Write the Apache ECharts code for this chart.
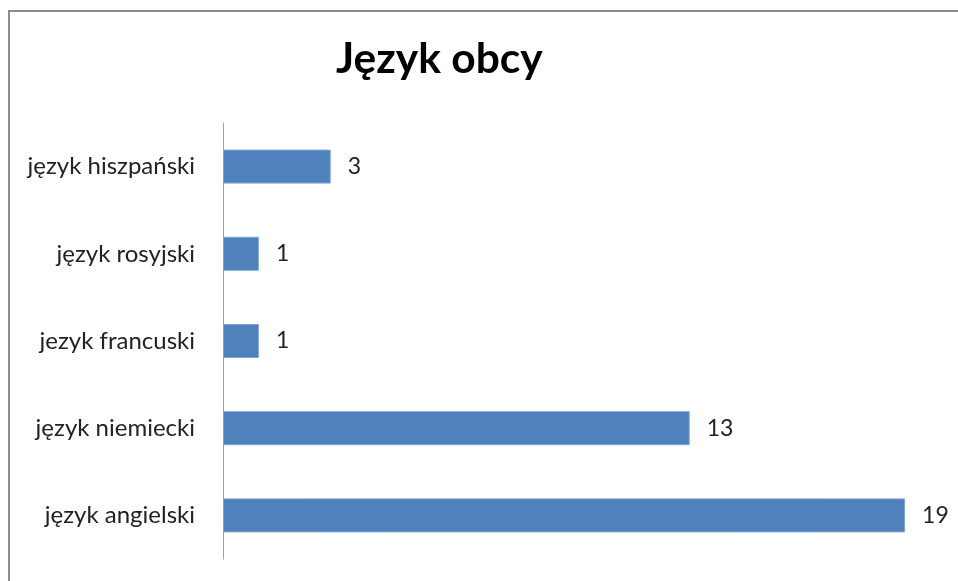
<!DOCTYPE html>
<html>
<head>
<meta charset="utf-8">
<script src="https://cdn.jsdelivr.net/npm/echarts@6/dist/echarts.min.js"></script>
<style>
  html, body { margin: 0; padding: 0; background: #fff; }
  #main { width: 958px; height: 581px; }
</style>
</head>
<body>
<div id="main"></div>
<script>
// dane wykresu
const categories = ['język angielski', 'język niemiecki', 'jezyk francuski', 'język rosyjski', 'język hiszpański']
const values = [19, 13, 1, 1, 3]

const chart = echarts.init(document.getElementById('main'))

const option = {
  animation: false,
  backgroundColor: '#fff',
  title: {
    text: 'Język obcy',
    left: 331,
    top: 33,
    textStyle: {
      fontFamily: 'Lato',
      fontWeight: 'bold',
      fontSize: 42.5,
      color: '#000'
    }
  },
  // ramka wykresu
  graphic: [{
    type: 'rect',
    shape: { x: 9, y: 11, width: 1000, height: 1000 },
    style: { fill: 'none', stroke: '#8c8c8c', lineWidth: 2 },
    silent: true
  }],
  grid: {
    left: 223,
    top: 123,
    bottom: 22,
    right: 17
  },
  xAxis: {
    type: 'value',
    min: 0,
    max: 20,
    show: false
  },
  yAxis: {
    type: 'category',
    data: categories,
    axisLine: {
      show: true,
      lineStyle: { color: '#a0a0a0', width: 1 }
    },
    axisTick: { show: false },
    axisLabel: {
      margin: 28,
      fontFamily: 'Lato',
      fontSize: 24,
      color: '#222'
    }
  },
  series: [{
    type: 'bar',
    data: values,
    barCategoryGap: '61%',
    itemStyle: {
      color: '#4f81bd',
      borderColor: '#7ea3d3',
      borderWidth: 1
    },
    label: {
      show: true,
      position: 'right',
      distance: 17,
      fontFamily: 'Lato',
      fontSize: 23,
      color: '#222'
    }
  }]
}

chart.setOption(option)
</script>
</body>
</html>
